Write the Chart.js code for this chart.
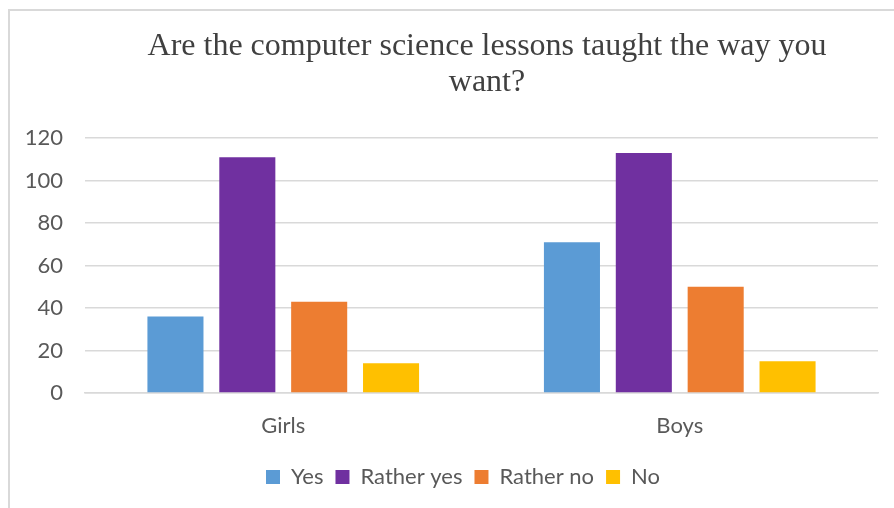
<!DOCTYPE html>
<html>
<head>
<meta charset="utf-8">
<script src="https://cdn.jsdelivr.net/npm/chart.js@4.4.1/dist/chart.umd.min.js"></script>
<style>
    html, body { margin: 0; padding: 0; background: #fff; overflow: hidden; }
    #frame {
        position: absolute; left: 8px; top: 9px; width: 920px; height: 520px;
        border: 2px solid #d9d9d9; box-sizing: border-box;
    }
    #title {
        position: absolute; left: 87px; top: 26px; width: 800px;
        text-align: center; font-family: "Liberation Serif", serif;
        font-size: 32px; line-height: 36px; color: #404040;
    }
    #wrap { position: absolute; left: 10px; top: 11px; width: 904px; height: 497px; }
</style>
</head>
<body>
<div id="frame"></div>
<div id="wrap"><canvas id="surveyChart"></canvas></div>
<div id="title">Are the computer science lessons taught the way you<br>want?</div>
<script>
const groups = ['Girls', 'Boys'];
const answers = ['Yes', 'Rather yes', 'Rather no', 'No'];
const yesValues = [36, 71];
const ratherYesValues = [111, 113];
const ratherNoValues = [43, 50];
const noValues = [14, 15];
const yTicks = [0, 20, 40, 60, 80, 100, 120];
const colors = ['#5B9BD5', '#7030A0', '#ED7D31', '#FFC000'];

const seriesValues = [yesValues, ratherYesValues, ratherNoValues, noValues];

Chart.defaults.font.family = 'Lato, sans-serif';
Chart.defaults.color = '#595959';

// nudge the legend so it sits centred under the whole frame, not the padded area
const legendShift = {
    id: 'legendShift',
    afterLayout(chart) {
        chart.legend.left += 19;
        chart.legend.right += 19;
    }
};

new Chart(document.getElementById('surveyChart'), {
    type: 'bar',
    data: {
        labels: groups,
        datasets: answers.map((name, i) => ({
            label: name,
            data: seriesValues[i],
            backgroundColor: colors[i],
            borderWidth: 0,
            categoryPercentage: 0.725,
            barPercentage: 0.78
        }))
    },
    plugins: [legendShift],
    options: {
        responsive: true,
        maintainAspectRatio: false,
        animation: false,
        layout: { padding: { top: 127, right: 36, bottom: 10, left: 0 } },
        plugins: {
            title: { display: false },
            tooltip: { enabled: false },
            legend: {
                position: 'bottom',
                labels: {
                    boxWidth: 14,
                    boxHeight: 14,
                    padding: 12,
                    font: { size: 22 },
                    color: '#595959'
                }
            }
        },
        scales: {
            x: {
                grid: { display: false, drawTicks: false },
                border: { color: '#d9d9d9', width: 1.5 },
                ticks: { font: { size: 22 }, padding: 20 },
                afterFit: scale => { scale.height = 61; }
            },
            y: {
                min: 0,
                max: 120,
                afterBuildTicks: scale => { scale.ticks = yTicks.map(v => ({ value: v })); },
                grid: { color: '#d9d9d9', lineWidth: 1.5, drawTicks: false },
                border: { display: false },
                ticks: { font: { size: 22 }, padding: 22 },
                afterFit: scale => { scale.width = 75; }
            }
        }
    }
});
</script>
</body>
</html>
